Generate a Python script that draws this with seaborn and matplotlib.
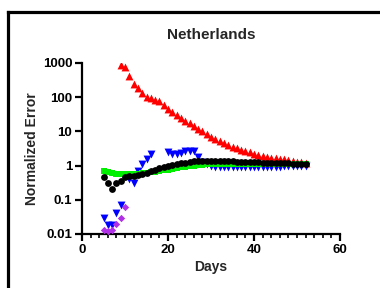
import numpy as np
import pandas as pd
import matplotlib
matplotlib.use("Agg")
import matplotlib.pyplot as plt
from matplotlib.lines import Line2D
from matplotlib.ticker import FixedLocator, MultipleLocator
import seaborn as sns

# ---- data ----
red_days = list(range(9, 53))
red_vals = [850, 760, 410, 234, 180, 133, 100, 91, 82, 75, 58, 44, 36, 29, 24, 20.5,
            17, 14.5, 12, 10.5, 8.5, 7, 6, 5.2, 4.5, 4.0, 3.5, 3.2, 2.9, 2.6, 2.4, 2.2,
            2.05, 1.9, 1.8, 1.7, 1.62, 1.55, 1.5, 1.45, 1.38, 1.3, 1.25, 1.2]

blue_days = list(range(5, 17)) + list(range(20, 53))
blue_vals = [0.03, 0.018, 0.018, 0.04, 0.07, 0.5, 0.4, 0.31, 0.68, 1.1, 1.5, 2.2,
             2.4, 2.1, 2.1, 2.3, 2.6, 2.7, 2.6, 1.8, 1.3, 1.1, 0.95,
             0.9, 0.89, 0.89, 0.88, 0.88, 0.88, 0.88, 0.88, 0.89, 0.89, 0.9, 0.9,
             0.9, 0.91, 0.92, 0.93, 0.94, 0.95, 0.96, 0.97, 0.98, 1.0]

purple_days = [5, 6, 7, 8, 9, 10]
purple_vals = [0.013, 0.012, 0.013, 0.02, 0.029, 0.063]

green_days = list(range(5, 53))
green_vals = [0.7, 0.66, 0.6, 0.56, 0.55, 0.55, 0.55, 0.56, 0.57, 0.59, 0.61, 0.63,
              0.66, 0.69, 0.72, 0.76, 0.8, 0.84, 0.88, 0.92, 0.96, 1.0, 1.03, 1.06,
              1.08, 1.1, 1.1, 1.11, 1.11, 1.11, 1.11, 1.11, 1.11, 1.11, 1.11, 1.11,
              1.11, 1.11, 1.11, 1.11, 1.11, 1.11, 1.11, 1.11, 1.11, 1.11, 1.11, 1.11]

black_days = list(range(5, 53))
black_vals = [0.45, 0.3, 0.2, 0.3, 0.35, 0.45, 0.48, 0.5, 0.53, 0.57, 0.62, 0.68,
              0.75, 0.82, 0.9, 0.97, 1.03, 1.1, 1.16, 1.22, 1.28, 1.32, 1.36, 1.38,
              1.38, 1.37, 1.36, 1.35, 1.34, 1.33, 1.32, 1.3, 1.29, 1.28, 1.26, 1.25,
              1.24, 1.22, 1.21, 1.2, 1.18, 1.17, 1.16, 1.15, 1.14, 1.13, 1.12, 1.1]

x_ticks = [0, 20, 40, 60]
y_ticks = [0.01, 0.1, 1, 10, 100, 1000]
y_tick_labels = ["0.01", "0.1", "1", "10", "100", "1000"]

# ---- style ----
sns.set_style("ticks")
plt.rcParams["font.family"] = ["Liberation Sans", "DejaVu Sans"]
plt.rcParams["font.weight"] = "bold"

fig = plt.figure(figsize=(3.8, 2.88), dpi=100)
ax = fig.add_axes([0.216, 0.1875, 0.679, 0.5945])

series = [
    (red_days, red_vals, "#FF0000", "^", 32),
    (blue_days, blue_vals, "#0000FF", "v", 32),
    (purple_days, purple_vals, "#B030E8", "D", 14),
    (green_days, green_vals, "#00F000", "s", 22),
    (black_days, black_vals, "#000000", "o", 24),
]
for d, v, c, m, s in series:
    df = pd.DataFrame({"Days": d, "Error": v})
    sns.scatterplot(data=df, x="Days", y="Error", ax=ax, color=c, marker=m,
                    s=s, linewidth=0, zorder=3)

ax.set_yscale("log")
ax.set_ylim(0.01, 1000)
ax.set_xlim(0, 60)
ax.set_yticks(y_ticks)
ax.set_yticklabels(y_tick_labels)
ax.yaxis.set_minor_locator(FixedLocator([]))
ax.set_xticks(x_ticks)
ax.xaxis.set_minor_locator(MultipleLocator(2))

for sp in ["top", "right"]:
    ax.spines[sp].set_visible(False)
for sp in ["left", "bottom"]:
    ax.spines[sp].set_linewidth(1.6)
    ax.spines[sp].set_color("black")

ax.tick_params(axis="both", which="major", length=5, width=1.6, labelsize=9.5,
               colors="black", pad=2)
ax.tick_params(axis="x", which="minor", length=3, width=1.2, color="black")
for lbl in ax.get_xticklabels() + ax.get_yticklabels():
    lbl.set_fontweight("bold")

ax.set_xlabel("Days", fontsize=10, fontweight="bold", labelpad=3)
ax.set_ylabel("Normalized Error", fontsize=10, fontweight="bold", labelpad=3)
ax.set_title("Netherlands", fontsize=11, fontweight="bold", pad=17)

# outer frame (left and top edges visible)
fig.add_artist(Line2D([7.5 / 380, 7.5 / 380], [0, 1 - 11.5 / 288],
                      transform=fig.transFigure, color="black", linewidth=2.3,
                      solid_capstyle="projecting"))
fig.add_artist(Line2D([7.5 / 380, 1], [1 - 11.5 / 288, 1 - 11.5 / 288],
                      transform=fig.transFigure, color="black", linewidth=2.3,
                      solid_capstyle="projecting"))

fig.savefig("out.png", dpi=100)
